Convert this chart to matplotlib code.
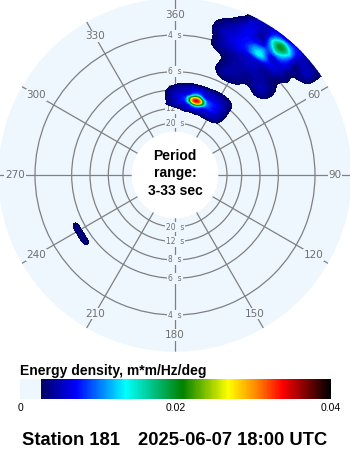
import numpy as np
import matplotlib
matplotlib.use('Agg')
from matplotlib import pyplot as plt
import matplotlib.tri as mtri
from matplotlib.colors import LinearSegmentedColormap, ListedColormap, Normalize, to_rgba
from matplotlib.cm import ScalarMappable

plt.rcParams['font.family'] = ['Liberation Sans', 'DejaVu Sans']

# ---- data (energy density in 1e-3 m*m/Hz/deg) ----
# swell peak, NNE
swell_dirs = [-14, -4, 8, 12, 16, 20, 24, 36, 46]
swell_freqs = [0.068, 0.082, 0.093, 0.099, 0.107, 0.115, 0.123, 0.140, 0.155]
swell_e3 = [
    [0.0, 0.0, 0.0, 0.0, 0.0, 0.0, 0.0, 0.0, 0.0],
    [0.0, 0.0, 3.5, 3.8, 4.0, 4.0, 4.0, 3.2, 0.0],
    [0.0, 3.5, 5.5, 7.0, 9.0, 7.0, 6.0, 4.5, 0.0],
    [0.0, 3.8, 7.0, 14., 22., 14., 8.0, 5.0, 0.0],
    [0.0, 4.0, 9.0, 25., 34., 25., 10., 5.0, 0.0],
    [0.0, 3.8, 7.0, 14., 22., 14., 8.0, 5.0, 0.0],
    [0.0, 3.5, 5.5, 7.0, 9.0, 7.0, 6.0, 4.5, 0.0],
    [0.0, 1.5, 3.2, 3.5, 3.5, 3.5, 3.5, 3.0, 0.0],
    [0.0, 0.0, 0.0, 0.0, 0.0, 0.0, 0.0, 0.0, 0.0],
]
# wind sea, NE
sea_dirs = [12, 18, 24, 29, 34.5, 39.5, 45, 51, 57]
sea_freqs = [0.170, 0.185, 0.200, 0.220, 0.240, 0.255, 0.268, 0.285, 0.308, 0.325, 0.345]
sea_e3 = [
    [0.0, 0.0, 1.5, 2.0, 1.0, 0.0, 0.0, 0.0, 0.0],
    [0.0, 1.0, 3.5, 3.8, 3.0, 1.5, 2.0, 0.5, 0.0],
    [0.0, 1.5, 4.0, 4.5, 4.0, 3.5, 4.5, 2.0, 0.0],
    [0.0, 1.5, 3.5, 4.5, 4.5, 4.5, 4.5, 2.5, 0.0],
    [1.0, 3.5, 4.5, 5.0, 5.5, 4.5, 3.5, 2.0, 0.0],
    [1.0, 4.0, 6.0, 6.5, 7.5, 5.5, 4.5, 2.0, 0.0],
    [1.0, 4.5, 6.5, 8.0, 13.5, 7.0, 5.5, 2.5, 0.5],
    [1.0, 4.5, 6.0, 7.0, 8.0, 8.5, 6.5, 3.0, 1.0],
    [0.5, 2.5, 5.0, 6.0, 7.5, 20., 8.0, 5.0, 1.5],
    [0.0, 1.0, 3.0, 5.5, 6.5, 9.0, 7.0, 4.5, 2.0],
    [0.0, 0.5, 1.5, 5.0, 6.0, 7.0, 6.5, 4.5, 2.5],
]
# small patch, SW
sw_dirs = [228, 233, 238, 243, 248]
sw_freqs = [0.170, 0.185, 0.200]
sw_e3 = [
    [0.0, 0.0, 0.0, 0.0, 0.0],
    [0.0, 3.3, 3.6, 3.3, 0.0],
    [0.0, 0.0, 0.0, 0.0, 0.0],
]

ring_periods = [4, 6, 8, 12, 20]
dir_ticks = list(range(0, 360, 30))
dir_labels = ['360', '30', '60', '90', '120', '150', '180', '210', '240', '270', '300', '330']
cbar_ticks = [0, 0.02, 0.04]
cbar_ticklabels = ['0', '0.02', '0.04']
station = 'Station 181'
stamp = '2025-06-07 18:00 UTC'

# ---- colours ----
bg = '#eef6fe'
grid_c = '#808080'
lab_c = '#707070'
vmin_show = 0.0027
vmax = 0.04
cb_nodes = [0.0027, 0.0071, 0.0135, 0.0209, 0.0268, 0.0303, 0.0338, 0.0368, 0.040]
cb_colors = ['#000066', '#0000ff', '#00ffff', '#008000', '#ffff00',
             '#ff8c00', '#ff0000', '#800000', '#000000']
grad = LinearSegmentedColormap.from_list(
    'wave', [((v - cb_nodes[0]) / (vmax - cb_nodes[0]), c) for v, c in zip(cb_nodes, cb_colors)])
n = 512
k0 = int(round(n * vmin_show / vmax))
cmap = ListedColormap(np.vstack([np.tile(to_rgba(bg), (k0, 1)),
                                 grad(np.linspace(0, 1, n - k0))]))
norm = Normalize(0, vmax)
levels = np.linspace(vmin_show, vmax, 70)

fig = plt.figure(figsize=(3.5, 4.5), dpi=100)

# polar axes: radius = frequency, centre hole = 33 s
fmin, fmax = 1 / 33., 1 / 3.
rorig = -30 / 440.
side = 2 * 440 * (fmax - rorig)
ax = fig.add_axes([(175 - side / 2) / 350, (275 - side / 2) / 450, side / 350, side / 450],
                  projection='polar')
ax.set_theta_zero_location('N')
ax.set_theta_direction(-1)
ax.set_rlim(fmin, fmax)
ax.set_rorigin(rorig)
ax.set_facecolor(bg)
for s in ax.spines.values():
    s.set_edgecolor('none')
    s.set_linewidth(0)
ax.set_axisbelow(True)
ax.set_thetagrids(dir_ticks, labels=[''] * len(dir_ticks))
ax.set_rgrids([1. / p for p in ring_periods], labels=[''] * len(ring_periods))
ax.grid(True, color=grid_c, linewidth=0.9)
ax.tick_params(length=0)


def draw_field(dirs, freqs, vals):
    nd, nf = len(dirs), len(freqs)
    ii, jj = np.meshgrid(np.arange(nd, dtype=float), np.arange(nf, dtype=float))
    tri = mtri.Triangulation(ii.ravel(), jj.ravel())
    tri_f, z_f = mtri.UniformTriRefiner(tri).refine_field(np.asarray(vals).ravel() * 1e-3, subdiv=3)
    th = np.deg2rad(np.interp(tri_f.x, np.arange(nd), dirs))
    rr = np.interp(tri_f.y, np.arange(nf), freqs)
    ax.tricontourf(th, rr, tri_f.triangles, z_f, levels=levels, cmap=cmap, norm=norm, zorder=1)


draw_field(swell_dirs, swell_freqs, swell_e3)
draw_field(sea_dirs, sea_freqs, sea_e3)
draw_field(sw_dirs, sw_freqs, sw_e3)

box = dict(facecolor=bg, edgecolor='none', pad=0.6)
r_lab = (160 - 30) / 440.
for d, lab in zip(dir_ticks, dir_labels):
    ax.text(np.deg2rad(d), r_lab, lab, ha='center', va='center', color=lab_c,
            fontsize=7.5, family='DejaVu Sans', bbox=box, zorder=0.8)
for p in ring_periods:
    for d in (0, 180):
        ax.text(np.deg2rad(d), 1. / p, '%d  s' % p, ha='center', va='center', color=lab_c,
                fontsize=5.5, family='DejaVu Sans', bbox=box, zorder=0.8)

ax.text(0.5, 0.505, 'Period\nrange:\n3-33 sec', transform=ax.transAxes, ha='center', va='center',
        fontsize=10, fontweight='bold', linespacing=1.3, zorder=4)

# colour bar
cax = fig.add_axes([20 / 350, 1 - 399 / 450, 311 / 350, 20 / 450])
cb = fig.colorbar(ScalarMappable(norm=norm, cmap=cmap), cax=cax, orientation='horizontal',
                  ticks=cbar_ticks)
cb.set_ticklabels(cbar_ticklabels)
cb.outline.set_visible(False)
cax.tick_params(length=0, pad=3, labelsize=7.5)

fig.text(20 / 350, 1 - 375 / 450, 'Energy density, m*m/Hz/deg', fontsize=10, fontweight='bold',
         va='baseline')
fig.text(22 / 350, 1 - 445 / 450, station, fontsize=13.2, fontweight='bold', va='baseline')
fig.text(138 / 350, 1 - 445 / 450, stamp, fontsize=13.2, fontweight='bold', va='baseline')

fig.savefig('out.png', dpi=100, facecolor='white')
